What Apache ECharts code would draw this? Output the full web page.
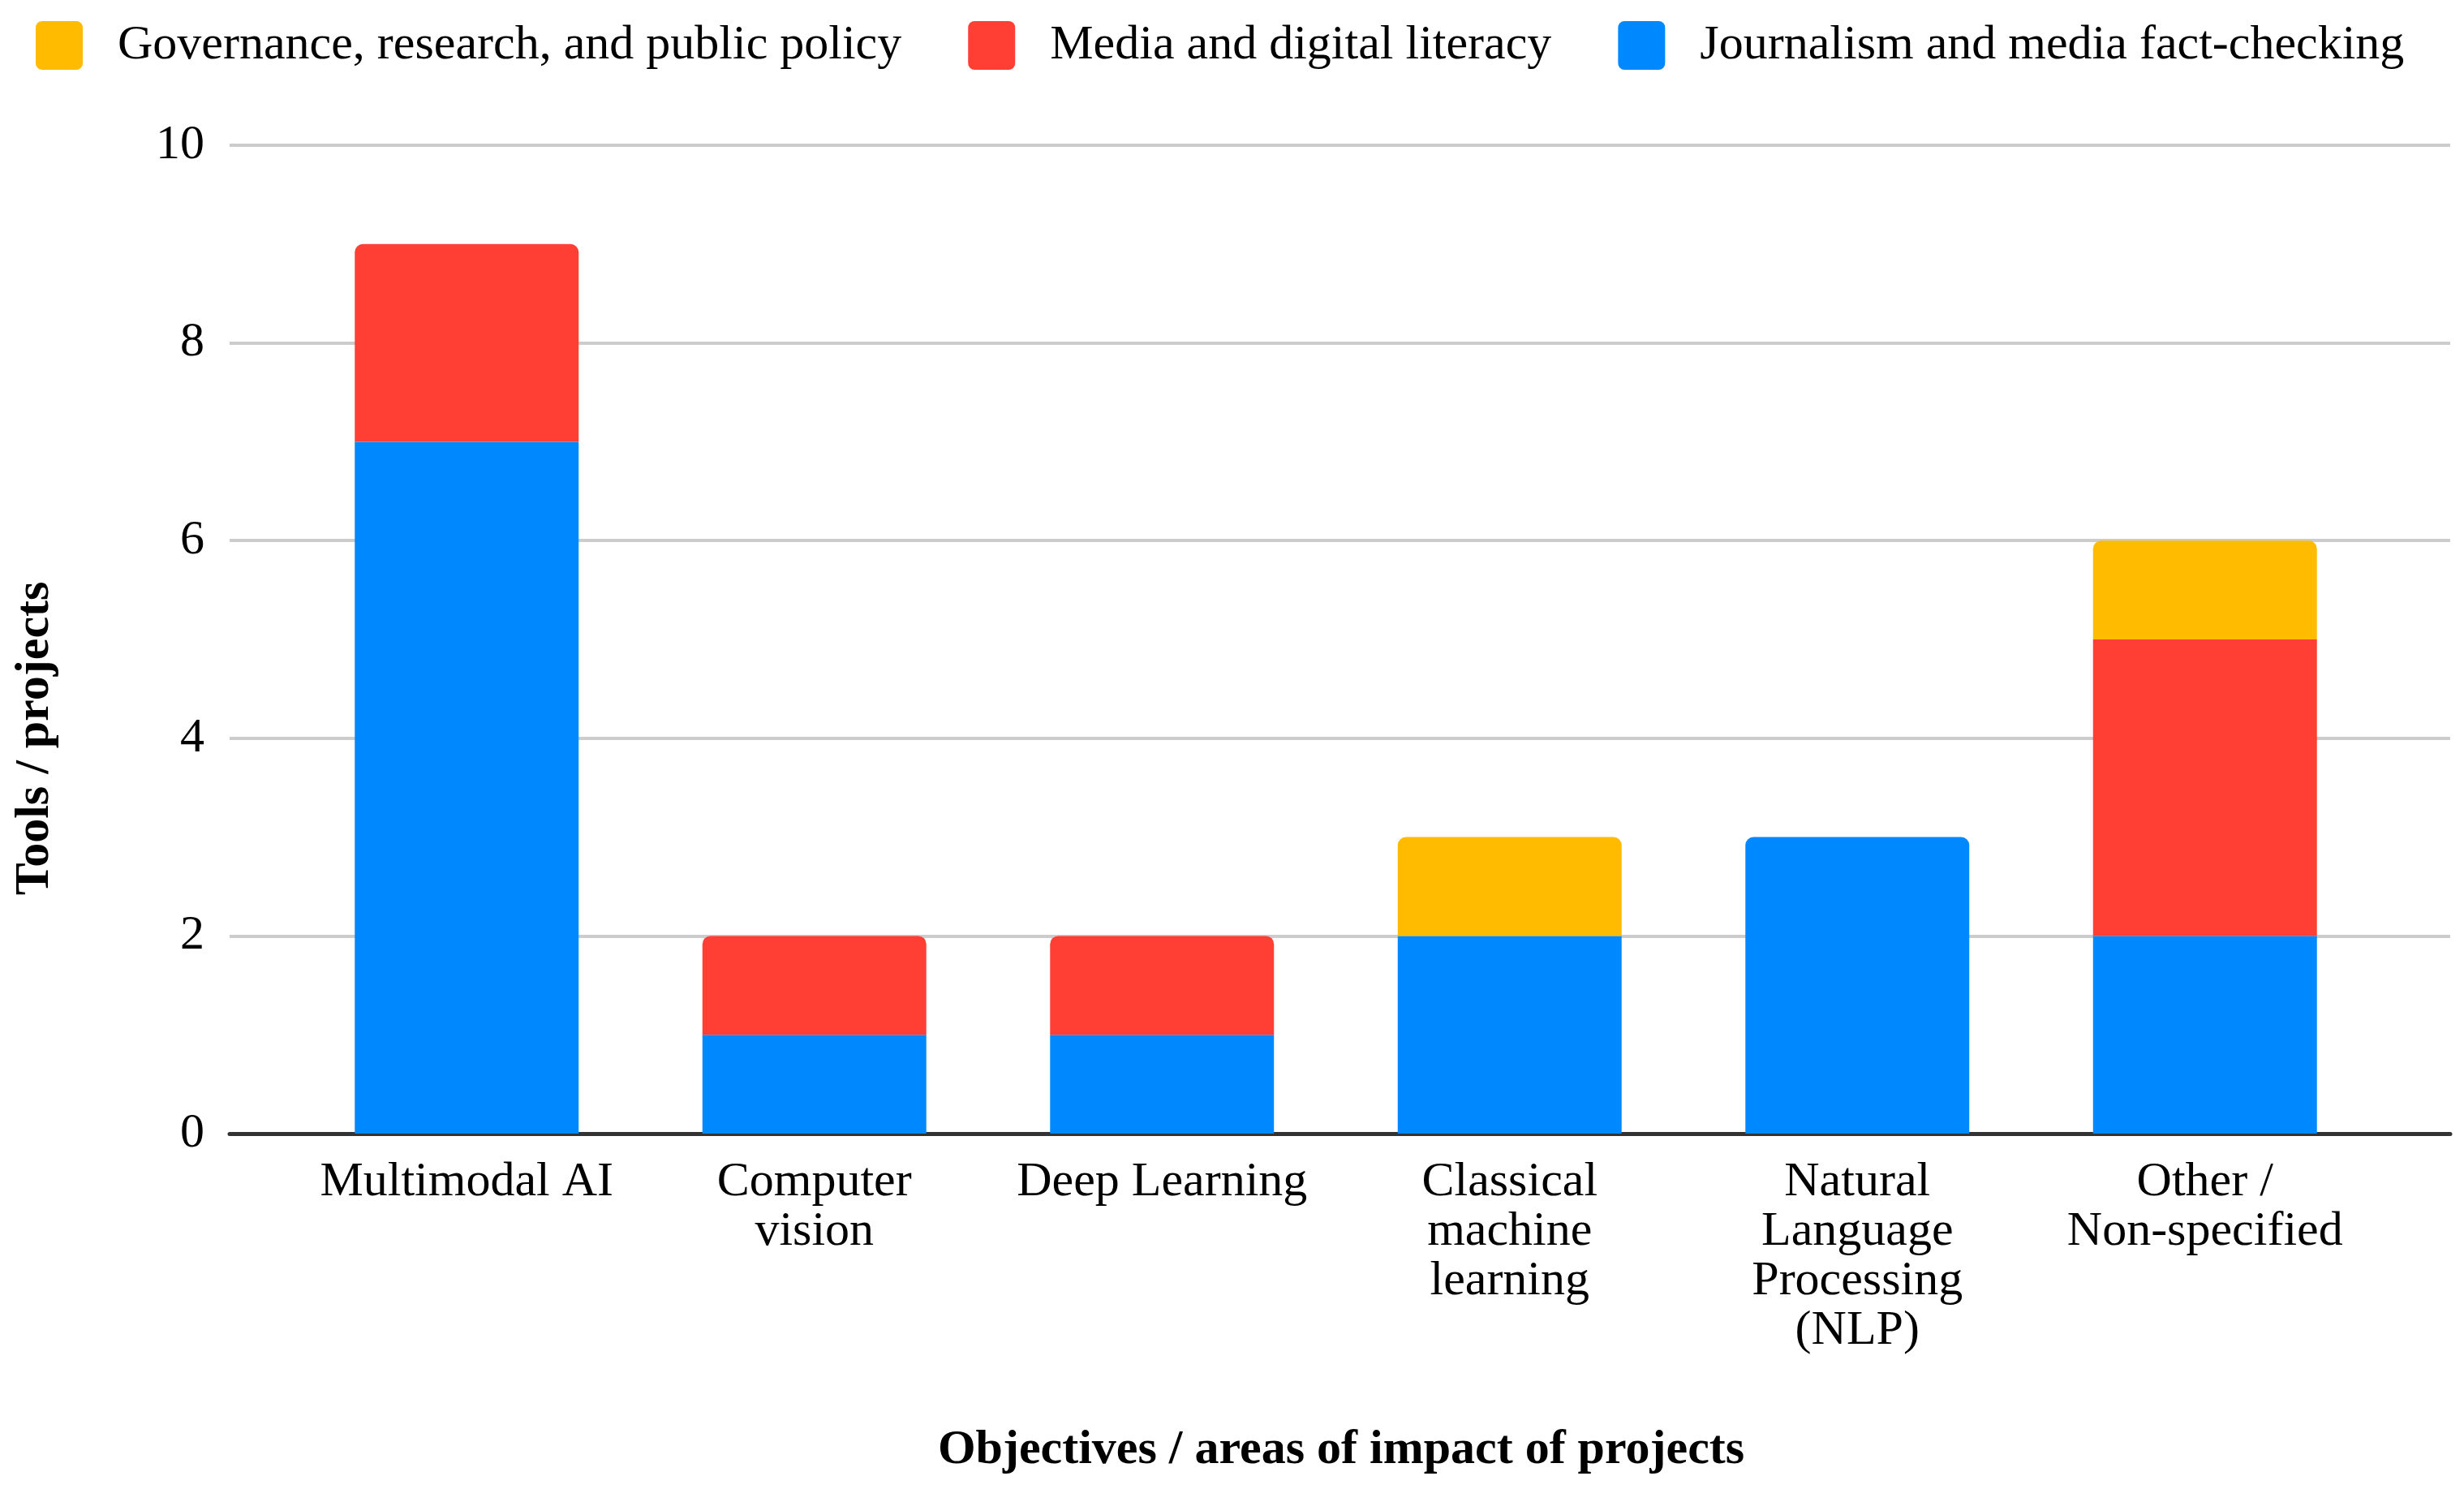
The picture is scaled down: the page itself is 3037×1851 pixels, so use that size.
<!DOCTYPE html>
<html>
<head>
<meta charset="utf-8">
<script src="https://cdn.jsdelivr.net/npm/echarts@6/dist/echarts.min.js"></script>
<style>
html,body{margin:0;padding:0;background:#fff;}
#chart{width:3037px;height:1851px;}
</style>
</head>
<body>
<div id="chart"></div>
<script>
const categories = ["Multimodal AI", "Computer\nvision", "Deep Learning", "Classical\nmachine\nlearning", "Natural\nLanguage\nProcessing\n(NLP)", "Other /\nNon-specified"];
const journalism = [7, 1, 1, 2, 3, 2];
const mediaLiteracy = [2, 1, 1, 0, 0, 3];
const governance = [0, 0, 0, 1, 0, 1];
const seriesNames = ["Journalism and media fact-checking", "Media and digital literacy", "Governance, research, and public policy"];
const legendOrder = ["Governance, research, and public policy", "Media and digital literacy", "Journalism and media fact-checking"];
const colors = ["#0088FF", "#FF3F33", "#FFBB00"];
const yTicks = [0, 2, 4, 6, 8, 10];
const xTitle = "Objectives / areas of impact of projects";
const yTitle = "Tools / projects";

const FONT = '"Liberation Serif", "Times New Roman", serif';
const stacks = [journalism, mediaLiteracy, governance];

function buildData(si) {
  return stacks[si].map((v, i) => {
    let top = -1;
    for (let k = 0; k < stacks.length; k++) if (stacks[k][i] > 0) top = k;
    if (top === si) return { value: v, itemStyle: { borderRadius: [10, 10, 0, 0] } };
    return v;
  });
}

const iconPath = 'path://M8,0H50A8,8 0 0 1 58,8V52A8,8 0 0 1 50,60H8A8,8 0 0 1 0,52V8A8,8 0 0 1 8,0Z';

const chart = echarts.init(document.getElementById('chart'), null, { renderer: 'canvas' });
chart.setOption({
  backgroundColor: '#ffffff',
  animation: false,
  legend: {
    data: legendOrder.map(n => ({ name: n, icon: iconPath })),
    left: 39, top: 21,
    itemWidth: 58, itemHeight: 60, itemGap: 82,
    textStyle: { fontFamily: FONT, fontSize: 60, color: '#000', padding: [0, 0, 0, 38] }
  },
  grid: [
    { left: 283, right: 17, top: 179, bottom: 454, containLabel: false },
    { left: 361, right: 105, top: 179, bottom: 454, containLabel: false }
  ],
  xAxis: [
    { gridIndex: 0, type: 'value', min: 0, max: 1, axisLine: { show: true, onZero: false, lineStyle: { color: '#333', width: 5 } },
      axisTick: { show: false }, axisLabel: { show: false }, splitLine: { show: false } },
    { gridIndex: 1, type: 'category', data: categories, boundaryGap: true,
      axisLine: { show: false }, axisTick: { show: false },
      axisLabel: { fontFamily: FONT, fontSize: 60, color: '#000', lineHeight: 61, margin: 30, interval: 0 } }
  ],
  yAxis: [
    { gridIndex: 0, type: 'value', min: yTicks[0], max: yTicks[yTicks.length - 1], interval: 2,
      axisLine: { show: false }, axisTick: { show: false },
      axisLabel: { fontFamily: FONT, fontSize: 60, color: '#000', margin: 31 },
      splitLine: { show: true, lineStyle: { color: '#cccccc', width: 4 } } },
    { gridIndex: 1, type: 'value', min: yTicks[0], max: yTicks[yTicks.length - 1], interval: 2, show: false,
      splitLine: { show: false } }
  ],
  series: seriesNames.map((name, si) => ({
    name: name, type: 'bar', stack: 'total', xAxisIndex: 1, yAxisIndex: 1,
    barCategoryGap: '35.6%',
    itemStyle: { color: colors[si] },
    data: buildData(si)
  })),
  graphic: [
    { type: 'text', x: 1653, y: 1787, style: { text: xTitle, font: 'bold 60px ' + FONT, fill: '#000', align: 'center', verticalAlign: 'middle' } },
    { type: 'text', x: 43, y: 910, rotation: Math.PI / 2, style: { text: yTitle, font: 'bold 60px ' + FONT, fill: '#000', align: 'center', verticalAlign: 'middle' } }
  ]
});
</script>
</body>
</html>
